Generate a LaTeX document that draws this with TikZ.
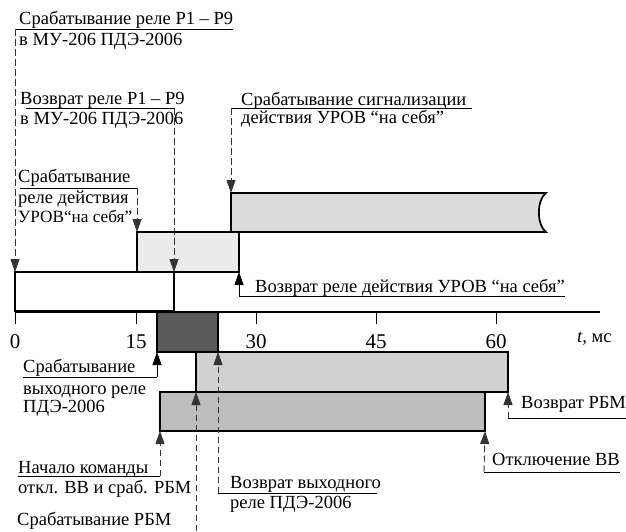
\documentclass[tikz,border=0pt]{standalone}
\usepackage{fontspec}
\setmainfont{Liberation Serif}
\usetikzlibrary{arrows.meta}
\begin{document}
\begin{tikzpicture}[x=1pt,y=-1pt,
  >={Triangle[length=13pt,width=9pt]},
  bar/.style={draw=black, line width=1.7pt, anchor=north west, inner sep=0pt, outer sep=0pt},
  txt/.style={anchor=base west, inner sep=0pt, font=\fontsize{18.5}{19}\selectfont},
  num/.style={anchor=base, inner sep=0pt, font=\fontsize{21}{22}\selectfont},
  rule/.style={line width=0.9pt},
  lead/.style={draw=black!80, line width=0.9pt, dash pattern=on 6.5pt off 3.5pt},
  tipped/.style={->},
  axis/.style={line width=1.3pt},
  tickmark/.style={line width=1pt}
]
\useasboundingbox (0,0) rectangle (626,531);

% time bars
\node[bar, fill=white,    minimum width=159pt, minimum height=39pt] (relay)  at (15,272) {};
\node[bar, fill=black!8,  minimum width=102pt, minimum height=40pt] (urov)   at (137,232) {};
\coordinate (sg) at (231,193);
\filldraw[line width=1.7pt, fill=black!14] (sg) -- (546,193)
  .. controls (536.5,200) and (536.5,225) .. (546,232) -- (231,232) -- cycle;
\node[bar, fill=black!65, minimum width=61pt,  minimum height=40pt] (outrel) at (157,312) {};
\node[bar, fill=black!18, minimum width=312pt, minimum height=40pt] (rbmret) at (196,352) {};
\node[bar, fill=black!26, minimum width=325pt, minimum height=39pt] (trip)   at (160,392) {};

% time axis
\coordinate (a0) at (15,312);
\coordinate (a1) at (600,312);
\draw[axis] (a0) -- (a1);
\foreach \xx/\lab in {15/0,136/15,256/30,376/45,496/60}{
  \draw[tickmark] (\xx,312) -- (\xx,324);
  \node[num] (tk\lab) at (\xx,348) {\lab};
}
\node[txt] (tunit) at (577,342) {\textit{t}, мс};

% labels
\node[txt] (l1a) at (19,24) {Срабатывание реле Р1 – Р9};
\node[txt] (l1b) at (19,45) {в МУ-206 ПДЭ-2006};
\node[txt] (l2a) at (20,104) {Возврат реле Р1 – Р9};
\node[txt] (l2b) at (20,124) {в МУ-206 ПДЭ-2006};
\node[txt] (l3a) at (241,105) {Срабатывание сигнализации};
\node[txt] (l3b) at (241,123.5) {действия УРОВ “на себя”};
\node[txt] (l4a) at (18,182) {Срабатывание};
\node[txt] (l4b) at (18,203.5) {реле действия};
\node[txt, font=\fontsize{17.2}{19}\selectfont] (l4c) at (18,222) {УРОВ“на себя”};
\node[txt] (l5)  at (255,292) {Возврат реле действия УРОВ “на себя”};
\node[txt] (l7a) at (23,372) {Срабатывание};
\node[txt] (l7b) at (23,394) {выходного реле};
\node[txt] (l7c) at (23,412.5) {ПДЭ-2006};
\node[txt] (l8a) at (18,473) {Начало команды};
\node[txt] (l8b) at (18,493) {откл. ВВ и сраб. РБМ};
\node[txt] (l9)  at (17,525) {Срабатывание РБМ};
\node[txt] (l10a) at (230,488) {Возврат выходного};
\node[txt] (l10b) at (230,508) {реле ПДЭ-2006};
\node[txt] (l11) at (521,408) {Возврат РБМ};
\node[txt] (l12) at (492,465) {Отключение ВВ};

% leader corners
\coordinate (k1) at (15,29);
\coordinate (k2) at (174,108);
\coordinate (k3) at (231,108);
\coordinate (k4) at (137,188);
\coordinate (k5) at (239,296);
\coordinate (k7) at (157,377);
\coordinate (k8) at (160,476);
\coordinate (k9) at (196,531);
\coordinate (k10) at (218,493);
\coordinate (k11) at (508,418);
\coordinate (k12) at (484,472);

% underlines
\draw[rule] (k1) -- (233,29);
\draw[rule] (26,108) -- (k2);
\draw[rule] (k3) -- (472,108);
\draw[rule] (20,188) -- (k4);
\draw[rule] (k5) -- (565,296);
\draw[rule] (23,377) -- (k7);
\draw[rule] (18,476) -- (k8);
\draw[rule] (k10) -- (377,493);
\draw[rule] (k11) -- (626,418);
\draw[rule] (k12) -- (620,472);

% leaders with arrows
\draw[lead, tipped] (k1) -- (relay.north west);
\draw[lead, tipped] (k2) -- (relay.north east);
\draw[lead, tipped] (k3) -- (sg);
\draw[lead, tipped] (k4) -- (urov.north west);
\draw[rule, tipped] (k5) -- (urov.south east);
\draw[rule, tipped] (k7) -- (outrel.south west);
\draw[lead, tipped] (k8) -- (trip.south west);
\draw[lead, tipped] (k9) -- (rbmret.south west);
\draw[lead, tipped] (k10) -- (outrel.south east);
\draw[lead, tipped] (k11) -- (rbmret.south east);
\draw[lead, tipped] (k12) -- (trip.south east);
\end{tikzpicture}
\end{document}
